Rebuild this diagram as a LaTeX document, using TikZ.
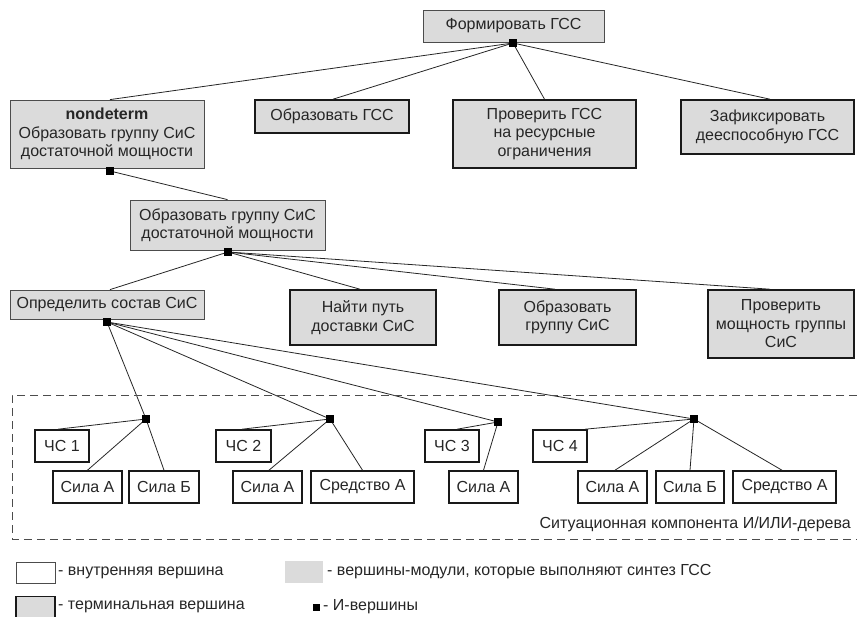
\documentclass[tikz,border=0pt]{standalone}
\usepackage{fontspec}
\setmainfont{Liberation Sans}
\begin{document}
\begin{tikzpicture}[x=1pt,y=-1pt,
  every node/.style={font=\fontsize{16}{18.5}\selectfont, text=black!85, align=center, inner sep=0pt},
  modbox/.style={draw=black!70, line width=0.8pt, fill=black!14},
  termbox/.style={draw=black!90, line width=1.6pt, fill=black!14},
  sitbox/.style={draw=black!90, line width=1.6pt, fill=white},
  andv/.style={fill=black, minimum size=7pt, inner sep=0pt},
  conn/.style={draw=black!85, line width=0.8pt}]
\useasboundingbox (0,0) rectangle (857,616);

% main tree nodes
\node[modbox, minimum width=181pt, minimum height=32pt] (top) at (513.5,26) {Формировать ГСС};
\node[modbox, minimum width=194pt, minimum height=68pt] (nd) at (107,134) {\textbf{nondeterm}\\Образовать группу СиС\\достаточной мощности};
\node[termbox, minimum width=154pt, minimum height=33pt] (obr) at (332,116.5) {Образовать ГСС};
\node[termbox, minimum width=183pt, minimum height=68pt] (prov) at (544.5,134) {Проверить ГСС\\на ресурсные\\ограничения};
\node[termbox, minimum width=173pt, minimum height=54pt] (zaf) at (767.5,127) {Зафиксировать\\дееспособную ГСС};
\node[modbox, minimum width=195pt, minimum height=50pt] (grp) at (227.5,225) {Образовать группу СиС\\достаточной мощности};
\node[modbox, minimum width=194pt, minimum height=29pt] (opr) at (107,304.5) {Определить состав СиС};
\node[termbox, minimum width=146pt, minimum height=55pt] (nai) at (363,317.5) {Найти путь\\доставки СиС};
\node[termbox, minimum width=137pt, minimum height=55pt] (obg) at (567.5,317.5) {Образовать\\группу СиС};
\node[termbox, minimum width=146pt, minimum height=68pt] (pmg) at (781,324) {Проверить\\мощность группы\\СиС};

% AND vertices
\node[andv] (a0) at (513,43) {};
\node[andv] (a1) at (110,171) {};
\node[andv] (a2) at (228,252) {};
\node[andv] (a3) at (107,322) {};
\node[andv] (b1) at (146,419) {};
\node[andv] (b2) at (330,419) {};
\node[andv] (b3) at (498,422) {};
\node[andv] (b4) at (694,419) {};

% situation nodes
\node[sitbox, minimum width=54pt, minimum height=32pt] (c1) at (62,446) {ЧС 1};
\node[sitbox, minimum width=69pt, minimum height=32pt] (s1a) at (87.5,487) {Сила А};
\node[sitbox, minimum width=70pt, minimum height=32pt] (s1b) at (164,487) {Сила Б};
\node[sitbox, minimum width=55pt, minimum height=32pt] (c2) at (243.5,446) {ЧС 2};
\node[sitbox, minimum width=69pt, minimum height=32pt] (s2a) at (267.5,487) {Сила А};
\node[sitbox, minimum width=103pt, minimum height=32pt] (s2s) at (362.5,487) {Средство А};
\node[sitbox, minimum width=54pt, minimum height=32pt] (c3) at (452,446) {ЧС 3};
\node[sitbox, minimum width=69pt, minimum height=32pt] (s3a) at (483.5,487) {Сила А};
\node[sitbox, minimum width=54pt, minimum height=32pt] (c4) at (560,446) {ЧС 4};
\node[sitbox, minimum width=69pt, minimum height=32pt] (s4a) at (612.5,487) {Сила А};
\node[sitbox, minimum width=68pt, minimum height=32pt] (s4b) at (690,487) {Сила Б};
\node[sitbox, minimum width=103pt, minimum height=32pt] (s4s) at (784.5,487) {Средство А};

% connectors
\begin{scope}[conn]
\draw (a0.center) -- ([xshift=3pt]nd.north);
\draw (a0.center) -- ([xshift=1pt]obr.north);
\draw (a0.center) -- (prov.north);
\draw (a0.center) -- ([xshift=2.5pt]zaf.north);
\draw (a1.center) -- (grp.north);
\draw (a2.center) -- ([xshift=3pt]opr.north);
\draw (a2.center) -- ([xshift=-3pt]nai.north);
\draw (a2.center) -- ([xshift=-12.5pt]obg.north);
\draw (a2.center) -- ([xshift=-11pt]pmg.north);
\draw (a3.center) -- (b1.center);
\draw (a3.center) -- (b2.center);
\draw (a3.center) -- (b3.center);
\draw (a3.center) -- (b4.center);
\draw (b1.center) -- ([xshift=-4pt]c1.north);
\draw (b1.center) -- (s1a.north);
\draw (b1.center) -- (s1b.north);
\draw (b2.center) -- ([xshift=-1.5pt]c2.north);
\draw (b2.center) -- ([xshift=1.5pt]s2a.north);
\draw (b2.center) -- (s2s.north);
\draw (b3.center) -- ([xshift=5pt]c3.north);
\draw (b3.center) -- (s3a.north);
\draw (b4.center) -- ([xshift=25pt]c4.north);
\draw (b4.center) -- ([xshift=2.5pt]s4a.north);
\draw (b4.center) -- (s4b.north);
\draw (b4.center) -- ([xshift=-2.5pt]s4s.north);
\end{scope}
% redraw AND squares on top
\foreach \n in {a0,a1,a2,a3,b1,b2,b3,b4} \fill (\n.south west) rectangle (\n.north east);

% dashed situational component
\draw[black!70, line width=0.9pt, dash pattern=on 8pt off 5pt] (857,395) -- (12,395) -- (12,539) -- (857,539);
\node[anchor=east] (sitlbl) at (851,524) {Ситуационная компонента И/ИЛИ-дерева};

% legend
\node[draw=black!70, line width=0.8pt, fill=white, minimum width=39pt, minimum height=21pt] (lg1) at (35.5,572.5) {};
\node[anchor=west] (lt1) at (58,572.5) {- внутренняя вершина};
\node[draw=black!90, line width=1.6pt, fill=black!14, minimum width=39pt, minimum height=21pt] (lg2) at (35.5,607) {};
\node[anchor=west] (lt2) at (58,607) {- терминальная вершина};
\node[fill=black!14, minimum width=38pt, minimum height=22pt] (lg3) at (304,572) {};
\node[anchor=west] (lt3) at (327,572) {- вершины-модули, которые выполняют синтез ГСС};
\node[fill=black, minimum size=7pt] (lg4) at (316.5,607) {};
\node[anchor=west] (lt4) at (323,607) {- И-вершины};
\end{tikzpicture}
\end{document}
